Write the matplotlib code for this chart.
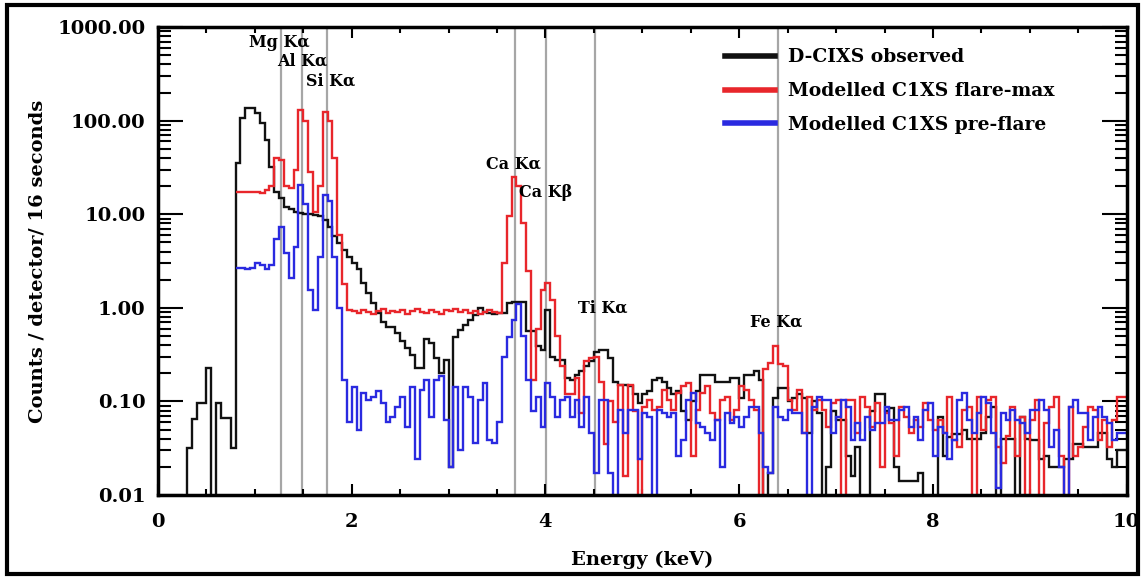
import numpy as np
import matplotlib.pyplot as plt
from matplotlib.patches import Rectangle
from matplotlib.ticker import FixedLocator, MultipleLocator, NullFormatter

# spectra on a 0.05 keV grid (0.001 = below the plot floor)
bin_width = 0.05
observed_start = 0.0    # keV, first edge of the observed spectrum
model_start = 0.80      # keV, first edge of the modelled spectra

dcixs_observed = [
    0.001, 0.001, 0.001, 0.001, 0.001, 0.001, 0.032, 0.065, 0.096, 0.096, 0.23, 0.001, 0.097, 0.067, 0.067, 0.032, 35, 106, 136, 136,
    120, 95, 62, 32, 17.5, 14.8, 12, 11.5, 10.7, 10.3, 10, 10, 9.8, 9.5, 8.7, 7.4, 5.8, 4.9, 4.2, 3.5,
    3.0, 2.6, 1.85, 1.45, 1.13, 0.88, 0.71, 0.63, 0.63, 0.54, 0.44, 0.37, 0.31, 0.23, 0.23, 0.46, 0.42, 0.29, 0.2, 0.28,
    0.02, 0.49, 0.58, 0.66, 0.75, 0.84, 1.0, 0.9, 0.88, 0.85, 0.88, 0.88, 1.13, 1.17, 1.17, 1.17, 0.56, 0.56, 0.39, 0.355,
    0.95, 0.3, 0.28, 0.28, 0.18, 0.17, 0.19, 0.21, 0.24, 0.27, 0.34, 0.356, 0.356, 0.29, 0.16, 0.15, 0.15, 0.145, 0.12, 0.097,
    0.12, 0.13, 0.17, 0.18, 0.16, 0.14, 0.12, 0.13, 0.08, 0.064, 0.1, 0.13, 0.19, 0.19, 0.19, 0.16, 0.16, 0.16, 0.18, 0.18,
    0.11, 0.19, 0.19, 0.21, 0.17, 0.001, 0.017, 0.11, 0.14, 0.14, 0.1, 0.11, 0.12, 0.11, 0.046, 0.1, 0.075, 0.001, 0.02, 0.08,
    0.064, 0.064, 0.026, 0.016, 0.033, 0.001, 0.001, 0.08, 0.12, 0.12, 0.08, 0.085, 0.02, 0.014, 0.014, 0.014, 0.014, 0.017, 0.001, 0.001,
    0.001, 0.069, 0.026, 0.042, 0.045, 0.045, 0.05, 0.04, 0.04, 0.04, 0.046, 0.069, 0.088, 0.001, 0.04, 0.04, 0.04, 0.001, 0.069, 0.04,
    0.039, 0.039, 0.024, 0.026, 0.02, 0.02, 0.02, 0.024, 0.024, 0.035, 0.035, 0.033, 0.033, 0.033, 0.046, 0.046, 0.024, 0.02, 0.03, 0.03,
]

c1xs_flare_max = [
    17.5, 17.5, 17.5, 17.5,
    17.5, 17, 18, 20, 40, 38, 20, 19, 30, 130, 100, 28, 10.7, 20, 125, 100, 40, 6, 1.8, 0.95,
    0.92, 0.88, 0.95, 0.9, 0.85, 0.92, 0.97, 0.88, 0.93, 0.9, 0.95, 0.86, 0.92, 0.98, 0.9, 0.88, 0.94, 0.9, 0.85, 0.95,
    0.92, 0.97, 0.9, 0.95, 0.88, 0.93, 0.86, 0.9, 0.95, 0.9, 0.88, 3.0, 9.5, 25, 20, 8, 2.5, 0.17, 0.6, 1.56,
    1.85, 1.22, 0.5, 0.24, 0.12, 0.12, 0.18, 0.075, 0.27, 0.29, 0.3, 0.16, 0.035, 0.1, 0.06, 0.15, 0.016, 0.15, 0.08, 0.001,
    0.088, 0.104, 0.081, 0.088, 0.133, 0.104, 0.081, 0.123, 0.145, 0.157, 0.026, 0.081, 0.123, 0.145, 0.075, 0.064, 0.104, 0.113, 0.064, 0.081,
    0.145, 0.133, 0.104, 0.081, 0.001, 0.22, 0.26, 0.39, 0.25, 0.24, 0.104, 0.081, 0.133, 0.046, 0.113, 0.081, 0.104, 0.081, 0.054, 0.096,
    0.104, 0.001, 0.104, 0.104, 0.046, 0.113, 0.088, 0.054, 0.096, 0.02, 0.075, 0.059, 0.026, 0.088, 0.069, 0.046, 0.064, 0.054, 0.096, 0.064,
    0.05, 0.064, 0.046, 0.113, 0.039, 0.033, 0.081, 0.088, 0.001, 0.113, 0.05, 0.104, 0.113, 0.033, 0.022, 0.043, 0.088, 0.026, 0.069, 0.001,
    0.064, 0.104, 0.001, 0.059, 0.088, 0.113, 0.026, 0.001, 0.088, 0.026, 0.033, 0.054, 0.088, 0.081, 0.039, 0.064, 0.033, 0.064, 0.113, 0.113,
]

c1xs_pre_flare = [
    2.65, 2.7, 2.6, 2.7,
    3.0, 2.9, 2.6, 2.9, 5.5, 7.4, 3.9, 2.1, 4.5, 20.6, 13, 1.56, 0.95, 3.5, 16, 14, 3.5, 1.0, 0.17, 0.06,
    0.144, 0.05, 0.123, 0.104, 0.113, 0.128, 0.096, 0.06, 0.069, 0.088, 0.113, 0.054, 0.144, 0.024, 0.133, 0.17, 0.069, 0.17, 0.185, 0.064,
    0.02, 0.144, 0.03, 0.144, 0.113, 0.036, 0.104, 0.157, 0.039, 0.036, 0.06, 0.3, 0.49, 0.75, 1.1, 0.5, 0.17, 0.08, 0.113, 0.054,
    0.157, 0.113, 0.069, 0.104, 0.113, 0.069, 0.104, 0.054, 0.113, 0.046, 0.017, 0.104, 0.104, 0.017, 0.001, 0.081, 0.046, 0.081, 0.081, 0.024,
    0.075, 0.069, 0.001, 0.081, 0.075, 0.069, 0.075, 0.026, 0.039, 0.104, 0.123, 0.059, 0.054, 0.046, 0.039, 0.064, 0.02, 0.075, 0.059, 0.069,
    0.054, 0.069, 0.088, 0.088, 0.046, 0.02, 0.017, 0.088, 0.069, 0.064, 0.081, 0.075, 0.075, 0.046, 0.001, 0.088, 0.113, 0.104, 0.104, 0.046,
    0.069, 0.104, 0.088, 0.039, 0.059, 0.039, 0.069, 0.05, 0.059, 0.059, 0.088, 0.064, 0.064, 0.081, 0.088, 0.054, 0.069, 0.039, 0.081, 0.096,
    0.026, 0.054, 0.046, 0.024, 0.039, 0.104, 0.123, 0.064, 0.046, 0.075, 0.113, 0.096, 0.046, 0.012, 0.075, 0.064, 0.081, 0.064, 0.059, 0.046,
    0.081, 0.081, 0.104, 0.081, 0.033, 0.05, 0.02, 0.001, 0.088, 0.104, 0.075, 0.075, 0.039, 0.069, 0.088, 0.069, 0.059, 0.039, 0.046, 0.046,
]

# emission line energies (keV) and their labels
line_names = ["Mg K\u03b1", "Al K\u03b1", "Si K\u03b1", "Ca K\u03b1", "Ca K\u03b2", "Ti K\u03b1", "Fe K\u03b1"]
line_energies = [1.27, 1.49, 1.74, 3.69, 4.01, 4.51, 6.40]
label_x = [1.25, 1.49, 1.78, 3.67, 4.00, 4.59, 6.38]
label_y = [690, 435, 266, 34, 17, 1.0, 0.7]

legend_labels = ["D-CIXS observed", "Modelled C1XS flare-max", "Modelled C1XS pre-flare"]
colors = ["#111111", "#e8262b", "#2a2ae0"]

plt.rcParams["font.family"] = "DejaVu Serif"
plt.rcParams["font.weight"] = "bold"

fig = plt.figure(figsize=(11.45, 5.77), dpi=100)
ax = fig.add_axes([0.138, 0.142, 0.846, 0.811])

for energy in line_energies:
    ax.axvline(energy, color="#a6a6a6", lw=1.6, zorder=1)

series = [dcixs_observed, c1xs_flare_max, c1xs_pre_flare]
starts = [observed_start, model_start, model_start]
for values, start, color, label in zip(series, starts, colors, legend_labels):
    edges = np.round(start + np.arange(len(values) + 1) * bin_width, 3)
    ax.stairs(values, edges, baseline=None, color=color, lw=1.7, zorder=2, label=label)

for name, x, y in zip(line_names, label_x, label_y):
    ax.text(x, y, name, ha="center", va="center", fontsize=11.5, fontweight="bold")

ax.set_yscale("log")
ax.set_xlim(0, 10)
ax.set_ylim(0.01, 1000)
ax.yaxis.set_major_locator(FixedLocator([0.01, 0.1, 1, 10, 100, 1000]))
ax.set_yticklabels(["0.01", "0.10", "1.00", "10.00", "100.00", "1000.00"])
ax.yaxis.set_minor_locator(FixedLocator([m * 10.0 ** e for e in range(-2, 3) for m in range(2, 10)]))
ax.yaxis.set_minor_formatter(NullFormatter())
ax.xaxis.set_major_locator(MultipleLocator(2))
ax.xaxis.set_minor_locator(MultipleLocator(0.5))

ax.tick_params(which="both", direction="in", top=True, right=True, width=1.5, labelsize=14)
ax.tick_params(axis="y", which="major", length=18, pad=9)
ax.tick_params(axis="y", which="minor", length=9)
ax.tick_params(axis="x", which="major", length=8, pad=13)
ax.tick_params(axis="x", which="minor", length=4)
for spine in ax.spines.values():
    spine.set_linewidth(2.5)

ax.set_xlabel("Energy (keV)", fontsize=14, fontweight="bold", labelpad=14)
ax.set_ylabel("Counts / detector/ 16 seconds", fontsize=14, fontweight="bold", labelpad=8)

leg = ax.legend(loc="upper left", bbox_to_anchor=(0.585, 0.955), frameon=False,
                borderaxespad=0, borderpad=0, fontsize=13.5, handlelength=2.7,
                handletextpad=0.7, labelspacing=0.85)
for handle in leg.legend_handles:
    handle.set_linewidth(4)

fig.patches.append(Rectangle((0.006, 0.006), 0.988, 0.986, transform=fig.transFigure,
                             fill=False, edgecolor="black", lw=3))

fig.savefig("out.png", dpi=100)
